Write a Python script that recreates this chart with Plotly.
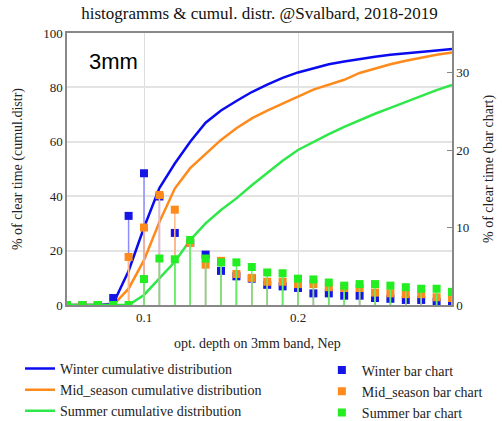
import plotly.graph_objects as go

x_vals = [0.05, 0.06, 0.07, 0.08, 0.09, 0.10, 0.11, 0.12, 0.13, 0.14, 0.15, 0.16, 0.17,
          0.18, 0.19, 0.20, 0.21, 0.22, 0.23, 0.24, 0.25, 0.26, 0.27, 0.28, 0.29, 0.30]

winter_cum = [0, 0, 0, 0.5, 12.5, 28.5, 43, 52, 60, 67, 71.5, 75, 78.3, 81, 83.5, 85.5,
              87, 88.5, 89.5, 90.5, 91.3, 92, 92.6, 93.1, 93.6, 94.1]
mid_cum = [0, 0, 0, 0, 6, 16.5, 30.5, 42.8, 50.3, 55.5, 60.7, 65, 68.6, 71.5, 74.2, 76.6,
           79.2, 81, 82.8, 85.3, 87, 88.5, 89.8, 91, 92, 92.8]
summer_cum = [0, 0, 0, 0, 0, 3.7, 9.8, 15.9, 23.9, 30, 34.9, 39.2, 44, 48.5, 53, 57,
              60, 62.8, 65.5, 68, 70.3, 72.5, 74.7, 76.9, 79, 80.9]

winter_bar = [0, 0, 0, 0.9, 11.5, 17.0, 14.0, 9.3, 8.0, 6.5, 4.4, 3.7, 3.4, 2.6, 2.4, 2.2,
              1.5, 1.5, 1.2, 1.2, 0.9, 0.8, 0.65, 0.65, 0.4, 0.3]
mid_bar = [0, 0, 0, 0, 6.2, 10.0, 14.2, 12.3, 8.0, 5.2, 5.7, 4.0, 3.5, 3.0, 3.0, 2.7,
           2.7, 2.3, 2.2, 2.2, 1.6, 1.5, 1.4, 1.4, 1.0, 0.9]
summer_bar = [0, 0, 0, 0, 0, 3.35, 6.0, 5.9, 8.4, 6.0, 5.5, 5.5, 4.9, 4.2, 4.1, 3.4,
              3.3, 2.9, 2.5, 2.7, 2.7, 2.5, 2.3, 2.1, 2.1, 1.7]

names_cum = ["Winter cumulative distribution", "Mid_season cumulative distribution",
             "Summer cumulative distribution"]
names_bar = ["Winter bar chart", "Mid_season bar chart", "Summer bar chart"]

line_colors = ["#0b0bf0", "#ff8a1c", "#2ee84a"]
marker_colors = ["#1515e8", "#ff8a1c", "#22ee22"]
stem_colors = ["#8c8cff", "#ffb98a", "#66ee66"]

SERIF = "Liberation Serif"
SANS = "Liberation Sans"

fig = go.Figure()

for cum, name, col in zip([winter_cum, mid_cum, summer_cum], names_cum, line_colors):
    fig.add_trace(go.Scatter(x=x_vals, y=cum, mode="lines", name=name,
                             line=dict(color=col, width=2.5), yaxis="y", legend="legend"))

for bars, name, mcol, scol in zip([winter_bar, mid_bar, summer_bar], names_bar,
                                  marker_colors, stem_colors):
    fig.add_trace(go.Scatter(
        x=x_vals, y=bars, mode="markers", name=name, yaxis="y2", legend="legend2",
        marker=dict(symbol="square", size=8, color=mcol),
        error_y=dict(type="data", symmetric=False, array=[0] * len(bars),
                     arrayminus=bars, width=0, thickness=1.5, color=scol),
    ))

fig.add_annotation(text="3mm", xref="paper", yref="paper", x=0.052, y=0.897,
                   xanchor="left", yanchor="middle", showarrow=False,
                   font=dict(family=SANS, size=22, color="black"))

# axis titles as annotations (fixed positions)
fig.add_annotation(text="% of clear time (cumul.distr)", xref="paper", yref="paper",
                   x=-0.127, y=0.5, textangle=-90, showarrow=False,
                   xanchor="center", yanchor="middle",
                   font=dict(family=SERIF, size=14, color="#222"))
fig.add_annotation(text="% of clear time (bar chart)", xref="paper", yref="paper",
                   x=1.096, y=0.5, textangle=-90, showarrow=False,
                   xanchor="center", yanchor="middle",
                   font=dict(family=SERIF, size=14, color="#222"))
fig.add_annotation(text="opt. depth on 3mm band, Nep", xref="paper", yref="paper",
                   x=0.496, y=-0.14, showarrow=False,
                   xanchor="center", yanchor="middle",
                   font=dict(family=SERIF, size=14, color="#222"))

fig.update_layout(
    width=502, height=421,
    margin=dict(l=67, r=50, t=33, b=116, autoexpand=False),
    paper_bgcolor="white", plot_bgcolor="white",
    font=dict(family=SERIF, size=14, color="#222"),
    title=dict(text="histogramms & cumul. distr. @Svalbard, 2018-2019",
               x=0.5, xref="paper", xanchor="center", y=0.968, yanchor="middle",
               font=dict(family=SERIF, size=17, color="#111")),
    xaxis=dict(range=[0.05, 0.30], tickvals=[0.1, 0.2], ticktext=["0.1", "0.2"],
               showgrid=True, gridcolor="#dddddd", gridwidth=1,
               showline=True, linecolor="#888888", linewidth=1.5, mirror=True,
               ticks="", zeroline=False, automargin=False,
               tickfont=dict(family=SERIF, size=13, color="#222")),
    yaxis=dict(range=[0, 100], tickvals=[0, 20, 40, 60, 80, 100],
               showgrid=True, gridcolor="#e3e3e3", gridwidth=1.5,
               showline=True, linecolor="#888888", linewidth=1.5,
               ticks="", zeroline=False, automargin=False,
               tickfont=dict(family=SERIF, size=13, color="#222")),
    yaxis2=dict(range=[0, 35.1], tickvals=[0, 10, 20, 30], overlaying="y", side="right",
                showgrid=False, showline=True, linecolor="#888888", linewidth=1.5,
                ticks="inside", ticklen=5, tickcolor="#888888", zeroline=False,
                automargin=False,
                tickfont=dict(family=SERIF, size=13, color="#222")),
    legend=dict(x=-0.122, y=-0.176, xanchor="left", yanchor="top", orientation="v",
                bgcolor="rgba(0,0,0,0)", font=dict(family=SERIF, size=14),
                tracegroupgap=0, itemwidth=30),
    legend2=dict(x=0.662, y=-0.182, xanchor="left", yanchor="top", orientation="v",
                 bgcolor="rgba(0,0,0,0)", font=dict(family=SERIF, size=14),
                 tracegroupgap=0),
    showlegend=True,
)

fig.write_html("out.html")
